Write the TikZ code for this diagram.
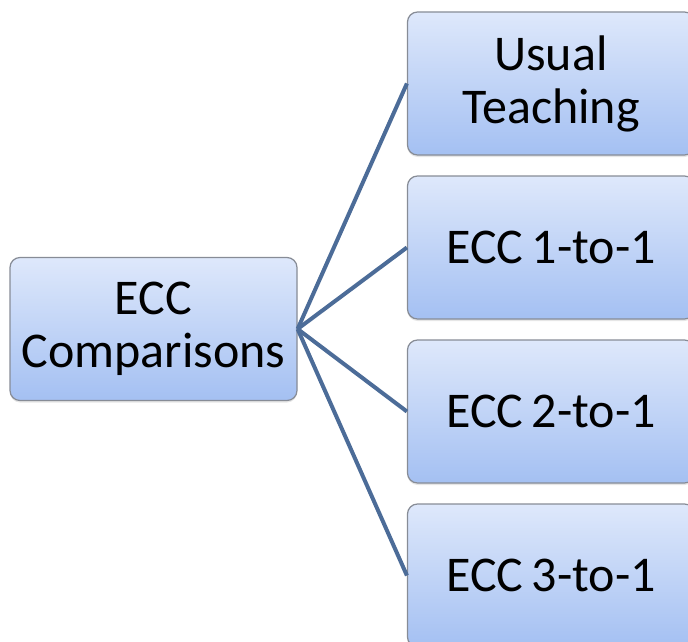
\documentclass[tikz,border=0pt]{standalone}
\usepackage{fontspec}
\setmainfont{Carlito}
\usetikzlibrary{shadows}
\definecolor{boxtop}{RGB}{222,232,251}
\definecolor{boxbottom}{RGB}{164,192,242}
\definecolor{boxline}{RGB}{135,140,150}
\definecolor{linkcol}{RGB}{76,108,152}
\tikzset{
  ecc box/.style={draw=boxline, line width=1.2pt, rounded corners=10pt,
    top color=boxtop, bottom color=boxbottom,
    minimum width=287pt, minimum height=143pt, inner sep=0pt,
    align=center, font=\fontsize{50}{53}\selectfont,
    drop shadow={opacity=0.2, shadow xshift=0pt, shadow yshift=-2pt}},
  link/.style={linkcol, line width=4pt}
}
\begin{document}
\begin{tikzpicture}[x=1pt,y=-1pt]
\useasboundingbox (0,0) rectangle (688,642);
\node[ecc box] (cmp) at (153.5,329) {ECC\\Comparisons};
\node[ecc box] (usual) at (551,83.5) {Usual\\Teaching};
\node[ecc box] (one) at (551,247.5) {ECC\,1-to-1};
\node[ecc box] (two) at (551,411.5) {ECC\,2-to-1};
\node[ecc box] (three) at (551,575.5) {ECC\,3-to-1};
% links
\foreach \t in {usual,one,two,three}
  \draw[link] (cmp.east) -- (\t.west);
\end{tikzpicture}
\end{document}
